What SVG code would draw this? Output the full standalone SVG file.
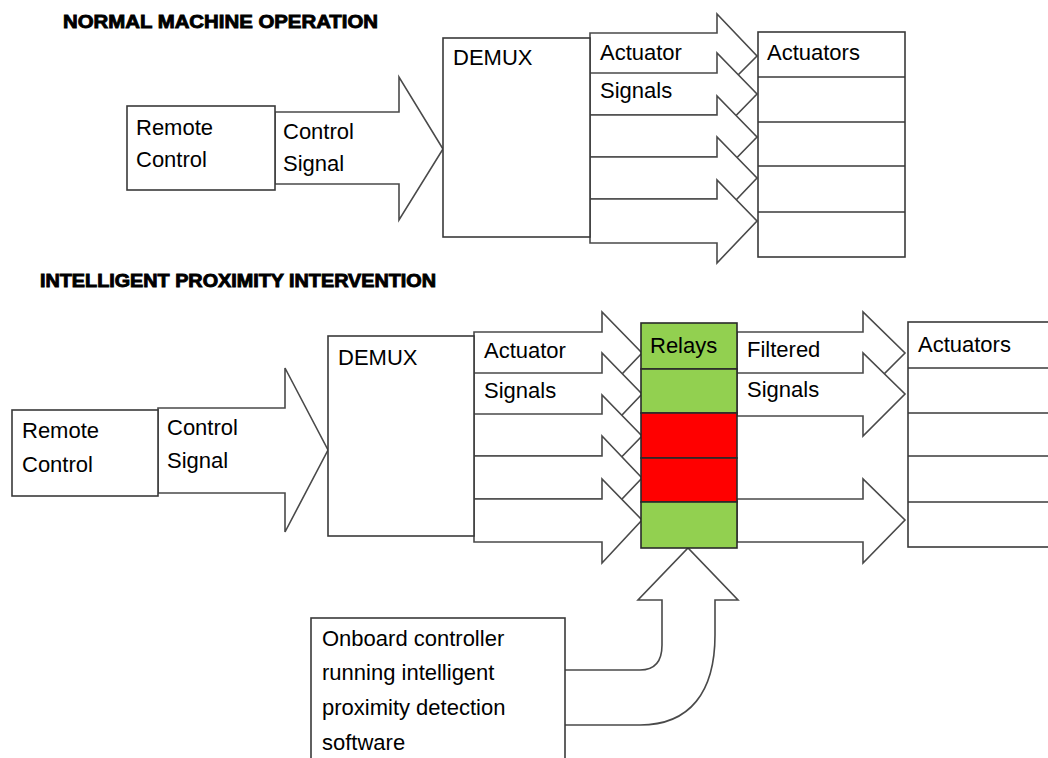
<svg xmlns="http://www.w3.org/2000/svg" width="1048" height="758" viewBox="0 0 1048 758">
<style>
.box{fill:#fff;stroke:#3a3a3a;stroke-width:1.6}
.arr{fill:#fff;stroke:#4a4a4a;stroke-width:1.6;stroke-linejoin:miter}
.row{stroke:#3a3a3a;stroke-width:1.6}
.lbl{font-family:"Liberation Sans",Arial,sans-serif;font-size:22px;fill:#000}
.ttl{font-family:"Liberation Sans",Arial,sans-serif;font-weight:bold;fill:#000;stroke:#000;stroke-width:0.9}
.g{fill:#92D050;stroke:#2a2a2a;stroke-width:1.6}
.r{fill:#FF0000;stroke:#2a2a2a;stroke-width:1.6}
</style>
<rect width="1048" height="758" fill="#fff"/>

<text class="ttl" x="63" y="28" font-size="19" textLength="315" lengthAdjust="spacingAndGlyphs">NORMAL MACHINE OPERATION</text>
<text class="ttl" x="40" y="287" font-size="18" textLength="396" lengthAdjust="spacingAndGlyphs">INTELLIGENT PROXIMITY INTERVENTION</text>

<g id="connectors">
  <!-- top: control signal -->
  <polygon class="arr" points="275,112 399,112 399,77 443,149 399,220 399,184 275,184"/>
  <!-- top: actuator signals -->
  <polygon class="arr" points="590,33 717,33 717,14 757,56 717,96 717,75 590,75"/>
  <polygon class="arr" points="590,73 717,73 717,53 757,94 717,135 717,115 590,115"/>
  <polygon class="arr" points="590,115 717,115 717,96 757,137 717,178 717,157 590,157"/>
  <polygon class="arr" points="590,157 717,157 717,137 757,178 717,220 717,199 590,199"/>
  <polygon class="arr" points="590,199 717,199 717,180 757,221 717,263 717,243 590,243"/>
  <!-- bottom: control signal -->
  <polygon class="arr" points="158,408 285,408 285,368 328,450 285,532 285,493 158,493"/>
  <!-- bottom: actuator signals -->
  <polygon class="arr" points="474,332 602,332 602,312 642,353 602,395 602,375 474,375"/>
  <polygon class="arr" points="474,373 602,373 602,353 642,394 602,436 602,416 474,416"/>
  <polygon class="arr" points="474,414 602,414 602,395 642,436 602,477 602,456 474,456"/>
  <polygon class="arr" points="474,456 602,456 602,436 642,478 602,520 602,499 474,499"/>
  <polygon class="arr" points="474,499 602,499 602,479 642,520 602,563 602,542 474,542"/>
  <!-- bottom: filtered signals -->
  <polygon class="arr" points="737,332 863,332 863,312 905,353 863,395 863,375 737,375"/>
  <polygon class="arr" points="737,373 863,373 863,353 905,394 863,436 863,416 737,416"/>
  <polygon class="arr" points="737,499 863,499 863,479 905,520 863,563 863,542 737,542"/>
  <!-- curved arrow from onboard controller to relays -->
  <path class="arr" d="M565,670 L640,670 Q662,670 662,645 L662,600 L638,600 L688,548 L738,600 L715,600 L715,635 C715,692 690,725 640,725 L565,725"/>
</g>

<g id="remote-top">
  <rect class="box" x="127" y="106" width="148" height="84"/>
  <text class="lbl" x="136" y="135">Remote</text>
  <text class="lbl" x="136" y="167">Control</text>
</g>
<g id="label-control-signal-top">
  <text class="lbl" x="283" y="139">Control</text>
  <text class="lbl" x="283" y="171">Signal</text>
</g>
<g id="demux-top">
  <rect class="box" x="443" y="38" width="147" height="199"/>
  <text class="lbl" x="453" y="65">DEMUX</text>
</g>
<g id="label-actuator-signals-top">
  <text class="lbl" x="600" y="60">Actuator</text>
  <text class="lbl" x="600" y="98">Signals</text>
</g>
<g id="actuators-top">
  <rect class="box" x="758" y="32" width="147" height="225"/>
  <line class="row" x1="758" y1="77" x2="905" y2="77"/>
  <line class="row" x1="758" y1="122" x2="905" y2="122"/>
  <line class="row" x1="758" y1="166" x2="905" y2="166"/>
  <line class="row" x1="758" y1="212" x2="905" y2="212"/>
  <text class="lbl" x="767" y="60">Actuators</text>
</g>

<g id="remote-bottom">
  <rect class="box" x="12" y="410" width="146" height="86"/>
  <text class="lbl" x="22" y="438">Remote</text>
  <text class="lbl" x="22" y="472">Control</text>
</g>
<g id="label-control-signal-bottom">
  <text class="lbl" x="167" y="435">Control</text>
  <text class="lbl" x="167" y="468">Signal</text>
</g>
<g id="demux-bottom">
  <rect class="box" x="328" y="336" width="146" height="200"/>
  <text class="lbl" x="338" y="365">DEMUX</text>
</g>
<g id="label-actuator-signals-bottom">
  <text class="lbl" x="484" y="358">Actuator</text>
  <text class="lbl" x="484" y="398">Signals</text>
</g>
<g id="relays">
  <rect class="g" x="641" y="323" width="96" height="46"/>
  <rect class="g" x="641" y="369" width="96" height="44"/>
  <rect class="r" x="641" y="413" width="96" height="45"/>
  <rect class="r" x="641" y="458" width="96" height="44"/>
  <rect class="g" x="641" y="502" width="96" height="46"/>
  <text class="lbl" x="650" y="353">Relays</text>
</g>
<g id="label-filtered-signals">
  <text class="lbl" x="747" y="357">Filtered</text>
  <text class="lbl" x="747" y="397">Signals</text>
</g>
<g id="actuators-bottom">
  <rect class="box" x="908" y="322" width="160" height="225"/>
  <line class="row" x1="908" y1="368" x2="1048" y2="368"/>
  <line class="row" x1="908" y1="413" x2="1048" y2="413"/>
  <line class="row" x1="908" y1="456" x2="1048" y2="456"/>
  <line class="row" x1="908" y1="502" x2="1048" y2="502"/>
  <text class="lbl" x="918" y="352">Actuators</text>
</g>
<g id="onboard-controller">
  <rect class="box" x="311" y="618" width="254" height="160"/>
  <text class="lbl" x="322" y="646">Onboard controller</text>
  <text class="lbl" x="322" y="680">running intelligent</text>
  <text class="lbl" x="322" y="715">proximity detection</text>
  <text class="lbl" x="322" y="750">software</text>
</g>
</svg>
